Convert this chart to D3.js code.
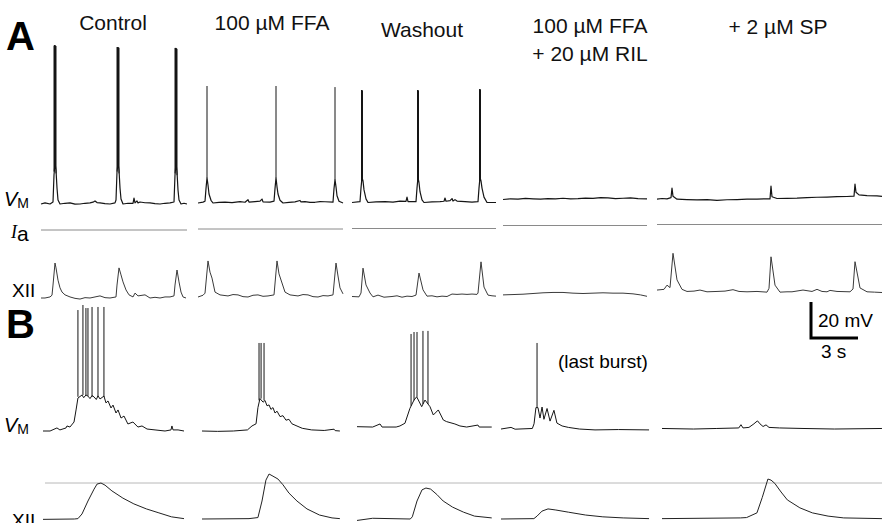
<!DOCTYPE html>
<html>
<head>
<meta charset="utf-8">
<script src="https://cdn.jsdelivr.net/npm/d3@7"></script>
<style>
  body { margin: 0; background: #fff; }
  svg { display: block; font-family: "Liberation Sans", Arial, sans-serif; }
  .vm { fill: none; stroke: #151515; stroke-width: 1.2; stroke-linejoin: round; }
  .spike { stroke: #151515; stroke-width: 1; }
  .xii { fill: none; stroke: #3a3a3a; stroke-width: 1; stroke-linejoin: round; }
  .ia { stroke: #8a8a8a; stroke-width: 1; }
  .ref-line { stroke: #b8b8b8; stroke-width: 1; }
  .title { font-size: 21px; fill: #111; text-anchor: middle; }
</style>
</head>
<body>
<div id="wrapper"></div>
<script>

// conditions, one per column
const conditions = [["Control"], ["100 µM FFA"], ["Washout"], ["100 µM FFA", "+ 20 µM RIL"], ["+ 2 µM SP"]];

// Panel A, membrane potential [s, mV]
const vmControlA = [[0,-60],[0.8,-59.4],[1.8,-60],[2.4,-58.9],[2.6,-43.9],[2.8,-37.2],[3.0,-41.1],[3.2,-51.1],[3.4,-57.8],[3.8,-60],[4.8,-59.6],[5.8,-59.4],[6.8,-60.1],[7.8,-60],[8.8,-59.6],[9.8,-59.4],[10.4,-59.0],[10.8,-58.3],[11.2,-59.2],[11.8,-59.4],[12.8,-59.8],[13.8,-60],[14.8,-59.4],[15.0,-57.8],[15.2,-42.2],[15.4,-37.2],[15.6,-41.1],[15.8,-51.1],[16.0,-57.2],[16.4,-60],[17.4,-59.6],[18.4,-59.7],[18.6,-56.7],[18.8,-59.4],[19.2,-58.3],[19.4,-59.4],[19.8,-58.9],[20.8,-59.3],[21.8,-59.4],[22.8,-59.8],[23.8,-60],[24.8,-59.6],[25.8,-59.4],[26.6,-58.9],[26.8,-43.9],[27.0,-37.2],[27.2,-42.2],[27.4,-52.2],[27.6,-57.8],[28.0,-60],[28.6,-59.6],[29.2,-60]];
const spikesControlA = [[2.6,-42,28],[2.7,-40,28.3],[2.8,-39,28.3],[2.9,-40,28],[3.0,-43,27.8],[15.2,-42,27.2],[15.3,-40,27.2],[15.4,-39,27.2],[15.5,-40,27],[15.6,-43,26.8],[26.8,-43,26.7],[26.9,-40,26.7],[27.0,-39,26.7],[27.1,-41,26.5],[27.2,-44,26.2]];

const vmFfaA = [[0,-60],[1.0,-59.5],[1.4,-59],[1.6,-52],[1.8,-46],[2.0,-50],[2.2,-55],[2.6,-58.5],[3.0,-60],[4.2,-59.6],[5.4,-59.5],[6.8,-59.8],[8.4,-59.2],[9.4,-59.6],[10.0,-58.2],[10.2,-59.5],[11.4,-59.2],[12.4,-59],[12.8,-57.8],[13.0,-59.4],[14.4,-59.5],[15.2,-59],[15.4,-52],[15.6,-46],[15.8,-51],[16.0,-55],[16.4,-58.5],[17.0,-60],[18.2,-59.6],[19.4,-59.4],[20.4,-58.6],[20.6,-59.4],[21.4,-59.2],[22.4,-59.7],[23.4,-59.6],[24.4,-59.2],[25.4,-59.3],[27.0,-59.5],[27.2,-52],[27.4,-47],[27.6,-51],[27.8,-56],[28.2,-59],[29.0,-60]];
const spikesFfaA = [[1.8,-46,5],[15.6,-46,5],[27.4,-47,4.4]];

const vmWashoutA = [[0,-60],[1.6,-59.5],[1.8,-52],[2.0,-46],[2.2,-48],[2.4,-53],[2.8,-58],[3.2,-60],[4.8,-59.7],[6.6,-59.5],[8.2,-59.8],[9.6,-59.2],[10.8,-59.4],[11.0,-57],[11.2,-59.5],[12.8,-59.5],[13.0,-52],[13.2,-46],[13.4,-49],[13.6,-54],[14.0,-58.5],[14.4,-60],[16.0,-59.7],[17.6,-59.5],[18.4,-59.3],[18.6,-57.5],[18.8,-59.3],[19.6,-59],[20.0,-57.8],[20.2,-59.2],[20.6,-58.4],[21.0,-59.2],[22.6,-59.5],[24.0,-59.8],[25.2,-59.5],[25.4,-52],[25.6,-46],[25.8,-48],[26.0,-52],[26.4,-57],[27.0,-60],[28.8,-60]];
const spikesWashoutA = [[1.9,-48,2.5],[2.0,-46,2.5],[2.1,-48,2.2],[13.1,-48,2.5],[13.2,-46,2.5],[13.3,-48,2.2],[25.5,-48,3],[25.6,-46,3],[25.7,-48,2.8]];

const vmRilA = [[0,-60],[1.5,-59.6],[3,-59.8],[4.5,-59.4],[6,-59.6],[7.5,-59.8],[9,-59.5],[10.5,-59.7],[12,-59.3],[13.5,-59.6],[15,-59.5],[16.5,-59.2],[18,-59.4],[19.5,-59.0],[21,-59.1],[22.5,-59.5],[24,-59.3],[25.5,-59.1],[27,-59.5],[28.8,-59.6]];

const vmSpA = [[0,-60.3],[1,-60],[2,-60.2],[2.8,-59.5],[3.0,-54.2],[3.2,-58.8],[4,-60.4],[6,-60.6],[8,-60.8],[10,-60.6],[12,-61],[14,-60.7],[16,-60.6],[18,-60.4],[20,-60.3],[22.6,-60.2],[22.8,-53.1],[23.0,-59],[24,-60],[26,-59.9],[28,-59.8],[30,-59.5],[32,-59.3],[34,-59.2],[36,-59],[38,-58.9],[39.4,-58.7],[39.6,-52],[39.8,-56.5],[40.4,-58],[42,-58.4],[44,-58.5],[45,-58.8]];

// Panel A, applied current [pA] and recording length [s]
const iaLevelsA = [0, 0, 0, 0, 0];
const durationsA = [29.2, 29, 28.8, 28.8, 45];

// Panel A, XII nerve output [% of control peak]
const xiiControlA = [[0,0],[0.8,0],[1.8,3],[2.2,8],[2.4,37],[2.8,100],[3.0,86],[3.4,51],[3.8,29],[4.2,17],[4.8,9],[5.8,3],[6.8,-1],[7.8,-3],[8.8,1],[9.8,0],[10.8,3],[11.8,6],[12.8,1],[13.8,0],[15.0,3],[15.2,37],[15.6,86],[16.0,66],[16.4,46],[17.0,23],[17.6,9],[18.4,3],[18.8,14],[19.4,6],[20.8,9],[21.8,0],[22.8,2],[23.8,0],[24.8,3],[25.8,3],[26.6,6],[26.8,37],[27.2,80],[27.6,46],[28.0,17],[28.4,3],[29.0,0]];
const xiiFfaA = [[0,0],[1.0,5],[1.4,11],[2.0,103],[2.4,71],[2.8,54],[3.4,14],[4.4,6],[6,3],[7,7],[8,6],[9,1],[10,0],[11,5],[12,6],[13,2],[14,3],[15.2,6],[15.8,103],[16.2,66],[16.8,40],[17.4,14],[18.4,6],[20,3],[21,7],[22,6],[23,1],[24,0],[25,4],[26,3],[27.0,6],[27.6,97],[28.0,60],[28.4,26],[29.0,9]];
const xiiWashoutA = [[0,0],[1.4,-1],[1.8,10],[2.2,81],[2.8,33],[3.6,10],[4.2,-1],[5.2,4],[6.4,-2],[8,0],[9,2],[10,-2],[11,1],[12,0],[12.8,4],[13.4,67],[14.2,19],[15.0,1],[16,2],[17,-1],[18,1],[19,0],[20,7],[21,6],[22,7],[23,6],[24,7],[25.0,6],[25.2,10],[25.8,99],[26.4,27],[27.2,4],[28.0,2],[28.8,1]];
const xiiRilA = [[0,-4],[2,-3],[4,-2],[6,0],[8,2],[10,3],[12,3],[14,1],[16,0],[18,1],[20,2],[22,1],[24,1],[26,-1],[27.5,-4],[28.8,-8]];
const xiiSpA = [[0,7],[1.4,9],[2.0,21],[2.6,14],[3.2,112],[4.0,36],[5.0,9],[6.0,3],[7.4,4],[8.6,7],[10,2],[12,3],[13.6,4],[15.2,8],[16.4,3],[18,2],[20,3],[22.0,1],[22.4,12],[22.8,102],[23.6,21],[24.6,1],[26,2],[27,2],[29.2,7],[31,3],[32.0,9],[33,3],[34,2],[34.6,6],[36,3],[38.6,2],[39.2,10],[39.6,88],[40.6,13],[42.0,2],[43.5,1],[45.0,0]];

// Panel B, single bursts, membrane potential [s, mV]
const vmControlB = [[0,-60],[0.45,-60],[0.89,-58.3],[1.08,-59.4],[1.47,-58.3],[1.53,-57.2],[1.72,-57.8],[1.98,-55],[2.11,-48.3],[2.23,-41.7],[2.49,-40],[2.6,-41.5],[2.74,-40],[2.87,-40.6],[3.0,-42],[3.13,-40.3],[3.26,-41.1],[3.4,-42.5],[3.51,-40.5],[3.64,-42.2],[3.89,-40.6],[4.02,-44.4],[4.15,-43.3],[4.34,-47.2],[4.47,-45.6],[4.66,-50],[4.79,-48.3],[4.98,-52.8],[5.17,-51.7],[5.42,-56.1],[5.74,-55],[6.06,-57.8],[6.32,-57.2],[6.64,-58.9],[7.15,-59.4],[7.79,-60],[8.17,-59.4],[8.23,-57.2],[8.3,-59.4],[8.62,-59.4],[9.0,-60]];
const spikesControlB = [[2.23,-41,7.2],[2.55,-40,10],[2.74,-40,8.3],[2.87,-40.5,8.3],[3.13,-41,8.9],[3.51,-41,8.9],[3.89,-41,8.9]];

const vmFfaB = [[0,-60],[1,-60.2],[2,-60],[2.9,-59.4],[3.19,-57.2],[3.45,-56],[3.57,-47],[3.7,-42],[3.9,-44],[4.02,-43],[4.15,-46],[4.28,-45.5],[4.4,-48],[4.53,-47],[4.66,-50],[4.79,-49],[4.98,-52],[5.17,-51.5],[5.36,-54],[5.55,-53.5],[5.74,-56],[6.0,-57],[6.4,-58.5],[7.0,-59.4],[7.8,-59.7],[8.43,-59],[8.5,-59.8],[8.8,-60]];
const spikesFfaB = [[3.64,-43,-11.1],[3.77,-42,-11.1],[3.96,-43,-11.1]];

const vmWashoutB = [[0,-57.6],[1.0,-57.8],[1.47,-56.1],[1.6,-57.8],[2.5,-57.8],[2.74,-57.2],[3.06,-55.7],[3.38,-47.4],[3.64,-42.8],[3.81,-41],[4.13,-46.5],[4.34,-42.8],[4.66,-46.5],[4.87,-51.1],[5.19,-48.3],[5.51,-53.9],[5.72,-54.8],[6.25,-56.1],[6.57,-57.2],[7.0,-57.8],[7.72,-56.7],[7.8,-57.8],[8.6,-57.8]];
const spikesWashoutB = [[3.45,-46,-6.1],[3.64,-43,-5],[3.83,-41,-5],[4.21,-45,-4.4],[4.53,-45,-4.4]];

const vmRilB = [[0,-58.9],[0.64,-58],[0.9,-59],[2.0,-58.6],[2.11,-56],[2.23,-47],[2.36,-47],[2.49,-52.8],[2.62,-46.7],[2.74,-53.5],[2.94,-47.5],[3.13,-54.5],[3.38,-48.5],[3.57,-55.6],[3.9,-57.2],[4.3,-58],[5.0,-58.9],[6.0,-59.4],[7.5,-59.2],[9.45,-59.4]];
const spikesRilB = [[2.3,-47,-11.1]];

const vmSpB = [[0,-58.6],[2.0,-58.9],[3.5,-58.6],[4.9,-58.3],[5.04,-56.5],[5.17,-58.3],[5.55,-58],[5.87,-56],[6.0,-55],[6.1,-54.4],[6.25,-56],[6.45,-57.5],[6.64,-56.6],[6.83,-58],[7.5,-58.3],[9.0,-58.6],[11.0,-58.9],[14.04,-58.6]];

// Panel B, XII nerve output [% of control peak]
const xiiControlB = [[0,-1],[2.0,0],[2.23,1],[2.49,14],[2.87,50],[3.26,83],[3.45,97],[3.7,100],[3.96,94],[4.4,78],[5.1,58],[5.8,42],[6.6,28],[7.4,17],[8.2,6],[9.0,1]];
const xiiFfaB = [[0,0],[3.0,1],[3.57,4],[3.83,50],[4.08,108],[4.28,125],[4.53,119],[4.85,111],[5.17,95],[5.55,72],[6.06,50],[6.7,28],[7.5,11],[8.3,3],[8.8,1]];
const xiiWashoutB = [[0,-4],[1.0,2],[3.4,0],[3.53,6],[3.83,50],[4.15,81],[4.4,86],[4.7,83],[5.1,68],[5.5,50],[6.1,33],[6.8,19],[7.5,8],[8.6,3]];
const xiiRilB = [[0,0],[2.1,1],[2.3,8],[2.62,22],[3.0,28],[3.5,25],[4.3,19],[5.4,11],[6.5,6],[7.8,3],[9.45,1]];
const xiiSpB = [[0,1],[5.0,3],[5.4,4],[6.06,17],[6.4,60],[6.76,111],[6.96,108],[7.2,99],[7.6,75],[8.0,53],[8.8,31],[9.6,17],[10.6,8],[11.6,3],[14.04,1]];

// scale bar values
const scaleBarMv = 20;
const scaleBarS = 3;

async function drawChart() {

  // 1. Group data by column

  const vmA = [vmControlA, vmFfaA, vmWashoutA, vmRilA, vmSpA];
  const spikesA = [spikesControlA, spikesFfaA, spikesWashoutA, [], []];
  const xiiA = [xiiControlA, xiiFfaA, xiiWashoutA, xiiRilA, xiiSpA];
  const vmB = [vmControlB, vmFfaB, vmWashoutB, vmRilB, vmSpB];
  const spikesB = [spikesControlB, spikesFfaB, spikesWashoutB, spikesRilB, []];
  const xiiB = [xiiControlB, xiiFfaB, xiiWashoutB, xiiRilB, xiiSpB];

  // 2. Dimensions / layout

  const dimensions = { width: 882, height: 523 };
  const layoutA = { x: [41, 198, 352, 503, 657], shift: [0, -1, -1.5, -4.5, -5.5] };
  const layoutB = { x: [43, 202, 357, 501, 662] };
  const titles = { x: [113, 272, 422, 590, 778], y: [30, 30, 37, 33, 34] };

  // 3. Draw canvas

  const wrapper = d3.select("#wrapper")
    .append("svg")
    .attr("width", dimensions.width)
    .attr("height", dimensions.height);

  // 4. Scales

  const xA = d3.scaleLinear().domain([0, 1]).range([0, 5]);
  const vmScaleA = d3.scaleLinear().domain([-60, 28]).range([204, 45.6]);
  const iaScaleA = d3.scaleLinear().domain([0, 100]).range([230, 200]);
  const xiiScaleA = d3.scaleLinear().domain([0, 100]).range([298, 263]);

  const xB = d3.scaleLinear().domain([0, 1]).range([0, 47 / 3]);
  const vmScaleB = d3.scaleLinear().domain([-60, -40]).range([431, 395]);
  const xiiScaleB = d3.scaleLinear().domain([0, 100]).range([519, 483]);

  const lineFor = (x, y) => d3.line().x(d => x(d[0])).y(d => y(d[1]));

  // 5. Draw data

  // panel A
  conditions.forEach((cond, i) => {
    const col = wrapper.append("g")
      .attr("transform", `translate(${layoutA.x[i]},${layoutA.shift[i]})`);

    col.append("path")
      .attr("class", "vm")
      .attr("d", lineFor(xA, vmScaleA)(vmA[i]));

    col.selectAll("line.spike")
      .data(spikesA[i])
      .join("line")
      .attr("class", "spike")
      .attr("x1", d => xA(d[0]))
      .attr("x2", d => xA(d[0]))
      .attr("y1", d => vmScaleA(d[1]))
      .attr("y2", d => vmScaleA(d[2]));

    col.append("line")
      .attr("class", "ia")
      .attr("x1", xA(0))
      .attr("x2", xA(durationsA[i]))
      .attr("y1", iaScaleA(iaLevelsA[i]))
      .attr("y2", iaScaleA(iaLevelsA[i]));

    col.append("path")
      .attr("class", "xii")
      .attr("d", lineFor(xA, xiiScaleA)(xiiA[i]));
  });

  // panel B
  wrapper.append("line")
    .attr("class", "ref-line")
    .attr("x1", 45)
    .attr("x2", dimensions.width)
    .attr("y1", xiiScaleB(100))
    .attr("y2", xiiScaleB(100));

  conditions.forEach((cond, i) => {
    const col = wrapper.append("g")
      .attr("transform", `translate(${layoutB.x[i]},0)`);

    col.append("path")
      .attr("class", "vm")
      .style("stroke-width", 1)
      .attr("d", lineFor(xB, vmScaleB)(vmB[i]));

    col.selectAll("line.spike")
      .data(spikesB[i])
      .join("line")
      .attr("class", "spike")
      .attr("x1", d => xB(d[0]))
      .attr("x2", d => xB(d[0]))
      .attr("y1", d => vmScaleB(d[1]))
      .attr("y2", d => vmScaleB(d[2]));

    col.append("path")
      .attr("class", "xii")
      .style("stroke", "#222")
      .attr("d", lineFor(xB, xiiScaleB)(xiiB[i]));
  });

  // 6. Peripherals

  // column titles
  conditions.forEach((cond, i) => {
    cond.forEach((txt, k) => {
      wrapper.append("text")
        .attr("class", "title")
        .attr("x", titles.x[i])
        .attr("y", titles.y[i] + k * 28)
        .text(txt);
    });
  });

  // panel letters
  [["A", 50], ["B", 338]].forEach(([letter, y]) => {
    wrapper.append("text")
      .attr("x", 6)
      .attr("y", y)
      .style("font-size", "40px")
      .style("font-weight", "bold")
      .text(letter);
  });

  // trace labels
  const vmLabel = (x, y) => {
    const t = wrapper.append("text").attr("x", x).attr("y", y).style("font-size", "20px");
    t.append("tspan").style("font-style", "italic").text("V");
    t.append("tspan").attr("dy", 2).style("font-size", "14px").text("M");
  };
  vmLabel(4, 206);
  vmLabel(4, 432);

  const iaLabel = wrapper.append("text").attr("x", 11).attr("y", 238);
  iaLabel.append("tspan")
    .style("font-family", "'Liberation Serif', serif")
    .style("font-style", "italic")
    .style("font-size", "18px")
    .text("I");
  iaLabel.append("tspan").attr("dy", 3).style("font-size", "21px").text("a");

  [[12, 297], [12, 527]].forEach(([x, y]) => {
    wrapper.append("text")
      .attr("x", x)
      .attr("y", y)
      .style("font-size", "19px")
      .text("XII");
  });

  wrapper.append("text")
    .attr("x", 558)
    .attr("y", 368)
    .style("font-size", "19px")
    .text("(last burst)");

  // scale bar (panel B units)
  const bar = wrapper.append("g").attr("transform", "translate(811,0)");
  bar.append("path")
    .attr("d", d3.line()([
      [0, vmScaleB(-60) - 93 - (vmScaleB(-60) - vmScaleB(-60 + scaleBarMv))],
      [0, vmScaleB(-60) - 93],
      [xB(scaleBarS), vmScaleB(-60) - 93],
    ]))
    .attr("fill", "none")
    .attr("stroke", "#000")
    .attr("stroke-width", 3);
  bar.append("text")
    .attr("x", 7)
    .attr("y", 327)
    .style("font-size", "19px")
    .text(`${scaleBarMv} mV`);
  bar.append("text")
    .attr("x", 10)
    .attr("y", 358)
    .style("font-size", "19px")
    .text(`${scaleBarS} s`);
}

drawChart();
</script>
</body>
</html>
